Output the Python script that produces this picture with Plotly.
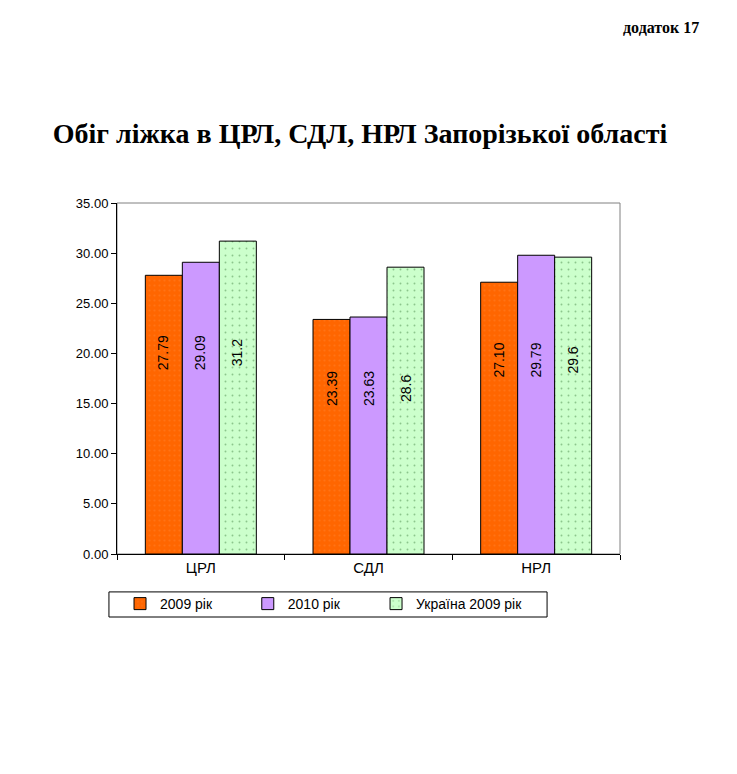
import plotly.graph_objects as go

# Data
categories = ["ЦРЛ", "СДЛ", "НРЛ"]
series_names = ["2009 рік", "2010 рік", "Україна 2009 рік"]
values_2009 = [27.79, 23.39, 27.10]
values_2010 = [29.09, 23.63, 29.79]
values_ukraine = [31.2, 28.6, 29.6]
label_texts_2009 = ["27.79", "23.39", "27.10"]
label_texts_2010 = ["29.09", "23.63", "29.79"]
label_texts_ukraine = ["31.2", "28.6", "29.6"]
y_ticks = [0, 5, 10, 15, 20, 25, 30, 35]

# label heights (where Excel placed the rotated data labels)
label_y = [20.1, 16.5, 19.3]

fig = go.Figure()

styles = [
    dict(color="#FF6600", pattern=dict(shape=".", fgcolor="#FF7F2A", size=5, solidity=0.15)),
    dict(color="#CC99FF"),
    dict(color="#CCFFCC", pattern=dict(shape=".", fgcolor="#4C8C4C", size=7, solidity=0.06)),
]
all_vals = [values_2009, values_2010, values_ukraine]
all_labels = [label_texts_2009, label_texts_2010, label_texts_ukraine]
legend_ids = ["legend", "legend2", "legend3"]
legend_x = [0.006, 0.260, 0.515]

for name, vals, st, lid in zip(series_names, all_vals, styles, legend_ids):
    fig.add_trace(go.Bar(
        x=categories,
        y=vals,
        name=name,
        legend=lid,
        marker=dict(line=dict(color="black", width=1), **st),
        hoverinfo="x+y",
    ))

# rotated value labels
bar_px = 37
for i, labels in enumerate(all_labels):
    for j, cat in enumerate(categories):
        fig.add_annotation(
            x=cat, y=label_y[j], xref="x", yref="y",
            text=labels[j], textangle=-90, showarrow=False,
            xshift=(i - 1) * bar_px,
            font=dict(family="Liberation Sans, Arial", size=14, color="black"),
        )

# gray frame (top/right) behind black axes
fig.add_shape(type="rect", xref="paper", yref="paper", x0=0, y0=0, x1=1, y1=1,
              line=dict(color="#808080", width=1), layer="below")

# legend box
fig.add_shape(type="rect", xref="paper", yref="paper",
              x0=-0.016, x1=0.855, y0=-0.1795, y1=-0.108,
              line=dict(color="black", width=1), fillcolor="white", layer="below")

fig.add_annotation(
    text="<b>додаток 17</b>", xref="paper", yref="paper", x=1.082, y=1.499,
    xanchor="center", yanchor="middle",
    showarrow=False, font=dict(family="Liberation Serif, Times New Roman", size=16, color="black"),
)

legend_style = dict(
    orientation="h", y=-0.1425, xanchor="left", yanchor="middle",
    borderwidth=0, bgcolor="rgba(0,0,0,0)",
    font=dict(size=14), itemwidth=30,
)

fig.update_layout(
    width=737, height=774,
    paper_bgcolor="white", plot_bgcolor="white",
    margin=dict(l=109, r=125, t=195, b=228),
    barmode="group", bargap=0.338, bargroupgap=0,
    title=dict(
        text="<b>Обіг ліжка в ЦРЛ, СДЛ, НРЛ Запорізької області</b>",
        x=(360 - 8) / 737, xref="container", xanchor="center",
        y=1 - (133 - 8) / 774, yref="container", yanchor="middle",
        font=dict(family="Liberation Serif, Times New Roman", size=28, color="black"),
    ),
    font=dict(family="Liberation Sans, Arial", color="black"),
    showlegend=True,
    legend=dict(x=legend_x[0], **legend_style),
    legend2=dict(x=legend_x[1], **legend_style),
    legend3=dict(x=legend_x[2], **legend_style),
    xaxis=dict(
        showline=True, linecolor="black", linewidth=1,
        ticks="outside", ticklen=5, tickcolor="black", tickson="boundaries",
        tickfont=dict(size=15), showgrid=False,
    ),
    yaxis=dict(
        range=[0, 35], tickvals=y_ticks, tickformat=".2f",
        showline=True, linecolor="black", linewidth=1,
        ticks="outside", ticklen=5, tickcolor="black",
        tickfont=dict(size=13), showgrid=False, zeroline=False,
    ),
)

fig.write_html("out.html")
